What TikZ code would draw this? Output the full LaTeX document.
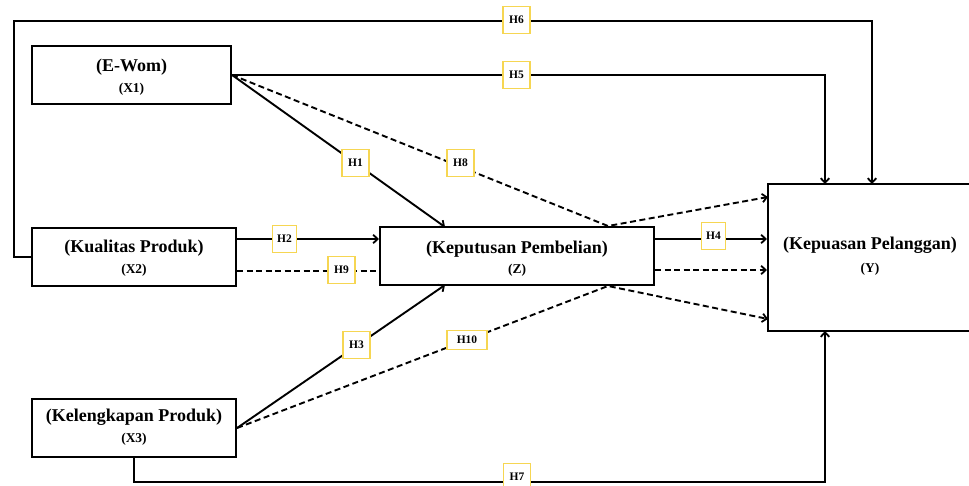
\documentclass[tikz,border=0pt]{standalone}
\usepackage{fontspec}
\setmainfont{Liberation Serif}
\usetikzlibrary{arrows.meta}
\definecolor{hyellow}{RGB}{246,214,82}
\tikzset{
  varbox/.style={draw=black,line width=2.1pt,fill=white,inner sep=0pt},
  maintext/.style={font=\bfseries\fontsize{18}{20}\selectfont,inner sep=0pt},
  subtext/.style={font=\bfseries\fontsize{13.5}{15}\selectfont,inner sep=0pt},
  conn/.style={line width=1.9pt,draw=black},
  arr/.style={conn,-{Straight Barb[length=4.5pt,width=8.5pt,line width=1.8pt]}},
  dsh/.style={dash pattern=on 6pt off 3.5pt},
  hlab/.style={draw=hyellow,line width=1.6pt,fill=white,inner sep=0pt,
    minimum width=27pt,minimum height=27pt,font=\bfseries\fontsize{11.5}{12}\selectfont}
}
\begin{document}
\begin{tikzpicture}[x=1pt,y=-1pt]
\useasboundingbox (0,0) rectangle (969,485);
% boxes
\node[varbox,minimum width=199pt,minimum height=58pt] (x1) at (131.5,75) {};
\node[varbox,minimum width=204pt,minimum height=58pt] (x2) at (134,257) {};
\node[varbox,minimum width=204pt,minimum height=58pt] (x3) at (134,428) {};
\node[varbox,minimum width=274pt,minimum height=58pt] (z) at (517,256) {};
\node[varbox,minimum width=210pt,minimum height=147pt] (y) at (873,257.5) {};
% texts
\node[maintext] (t1) at (131.5,67) {(E-Wom)};
\node[subtext] (s1) at (131.5,89) {(X1)};
\node[maintext] (t2) at (134,248) {(Kualitas Produk)};
\node[subtext] (s2) at (134,270) {(X2)};
\node[maintext] (t3) at (134,417) {(Kelengkapan Produk)};
\node[subtext] (s3) at (134,439) {(X3)};
\node[maintext] (tz) at (517,249) {(Keputusan Pembelian)};
\node[subtext] (sz) at (517,270) {(Z)};
\node[maintext] (ty) at (870,245) {(Kepuasan Pelanggan)};
\node[subtext] (sy) at (870,269) {(Y)};
% coordinates
\coordinate (y5) at (825,184);
\coordinate (y6) at (872,184);
\coordinate (y7) at (825,331);
\coordinate (za) at (445,227);
\coordinate (zb) at (445,285);
\coordinate (zc) at (608,226);
\coordinate (zd) at (608,286);
\coordinate (ya) at (768,197);
\coordinate (yc) at (768,319);
\coordinate (a2) at ([yshift=18pt]x2.east);
\coordinate (a9) at ([yshift=-14pt]x2.east);
\coordinate (a4) at ([yshift=17pt]z.east);
\coordinate (am) at ([yshift=-14pt]z.east);
% connectors
\draw[arr] (x2.west) -- (14,257) -- (14,21) -- (872,21) -- (y6);
\draw[arr] (x1.east) -- (825,75) -- (y5);
\draw[arr] (x3.south) -- (134,482) -- (825,482) -- (y7);
\draw[arr] (x1.east) -- (za);
\draw[arr] (x3.east) -- (zb);
\draw[arr,dsh] (x1.east) -- (zc) -- (ya);
\draw[arr,dsh] (x3.east) -- (zd) -- (yc);
\draw[arr] (a2) -- (a2 -| z.west);
\draw[conn,dsh] (a9) -- (a9 -| z.west);
\draw[arr] (a4) -- (a4 -| y.west);
\draw[arr,dsh] (am) -- (am -| y.west);
% labels
\node[hlab] (h1) at (355.5,163) {H1};
\node[hlab,minimum width=24pt] (h2) at (284.5,239) {H2};
\node[hlab] (h3) at (356.5,345) {H3};
\node[hlab,minimum width=24pt] (h4) at (713.5,236) {H4};
\node[hlab] (h5) at (516.5,75) {H5};
\node[hlab] (h6) at (516.5,20) {H6};
\node[hlab] (h7) at (517,477) {H7};
\node[hlab] (h8) at (460.5,163) {H8};
\node[hlab] (h9) at (341.5,270) {H9};
\node[hlab,minimum width=40pt,minimum height=19pt] (h10) at (467,340) {H10};
\end{tikzpicture}
\end{document}
